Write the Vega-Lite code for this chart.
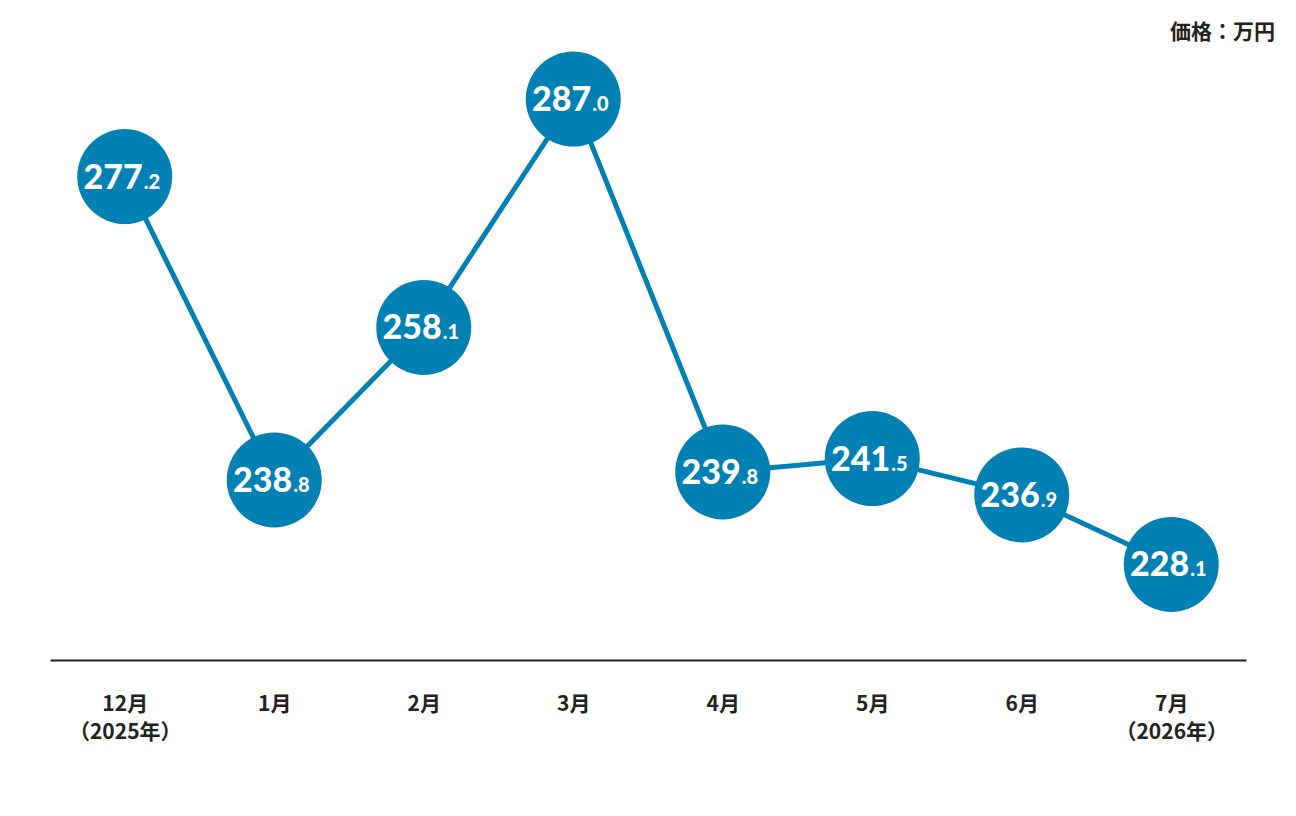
{
  "$schema": "https://vega.github.io/schema/vega-lite/v6.json",
  "width": 1196,
  "height": 620,
  "autosize": {"type": "none"},
  "padding": {"left": 50, "top": 40, "right": 50, "bottom": 156},
  "background": "white",
  "config": {"view": {"stroke": null}},
  "title": {
    "text": "価格：万円",
    "anchor": "end",
    "orient": "top",
    "dx": 29,
    "offset": -3,
    "font": "Noto Sans CJK JP",
    "fontSize": 21,
    "fontWeight": "bold",
    "color": "#222222"
  },
  "data": {
    "values": [
      {"month": "12月|（2025年）", "value": 277.2, "int": "277", "dec": ".2"},
      {"month": "1月", "value": 238.8, "int": "238", "dec": ".8"},
      {"month": "2月", "value": 258.1, "int": "258", "dec": ".1"},
      {"month": "3月", "value": 287.0, "int": "287", "dec": ".0"},
      {"month": "4月", "value": 239.8, "int": "239", "dec": ".8"},
      {"month": "5月", "value": 241.5, "int": "241", "dec": ".5"},
      {"month": "6月", "value": 236.9, "int": "236", "dec": ".9"},
      {"month": "7月|（2026年）", "value": 228.1, "int": "228", "dec": ".1"}
    ]
  },
  "encoding": {
    "x": {
      "field": "month",
      "type": "ordinal",
      "sort": null,
      "scale": {"type": "point", "padding": 0.5},
      "axis": {
        "title": null,
        "labelAngle": 0,
        "ticks": false,
        "grid": false,
        "domainColor": "#222222",
        "domainWidth": 2,
        "labelPadding": 33,
        "labelFont": "Noto Sans CJK JP",
        "labelFontSize": 21,
        "labelFontWeight": "bold",
        "labelColor": "#222222",
        "labelLineHeight": 28,
        "labelBaseline": "top",
        "labelExpr": "split(datum.label, '|')"
      }
    },
    "y": {
      "field": "value",
      "type": "quantitative",
      "scale": {"domain": [216, 294.48], "zero": false, "nice": false},
      "axis": null
    }
  },
  "layer": [
    {"mark": {"type": "line", "color": "#0080b3", "strokeWidth": 5}},
    {"mark": {"type": "point", "filled": true, "shape": "circle", "size": 9025, "color": "#0080b3", "opacity": 1}},
    {
      "mark": {"type": "text", "align": "right", "baseline": "alphabetic", "dx": 18, "dy": 12, "font": "Lato", "fontWeight": 900, "fontSize": 34, "color": "white"},
      "encoding": {"text": {"field": "int"}}
    },
    {
      "mark": {"type": "text", "align": "left", "baseline": "alphabetic", "dx": 19, "dy": 12, "font": "Lato", "fontWeight": 900, "fontSize": 20, "color": "white"},
      "encoding": {"text": {"field": "dec"}}
    }
  ]
}
